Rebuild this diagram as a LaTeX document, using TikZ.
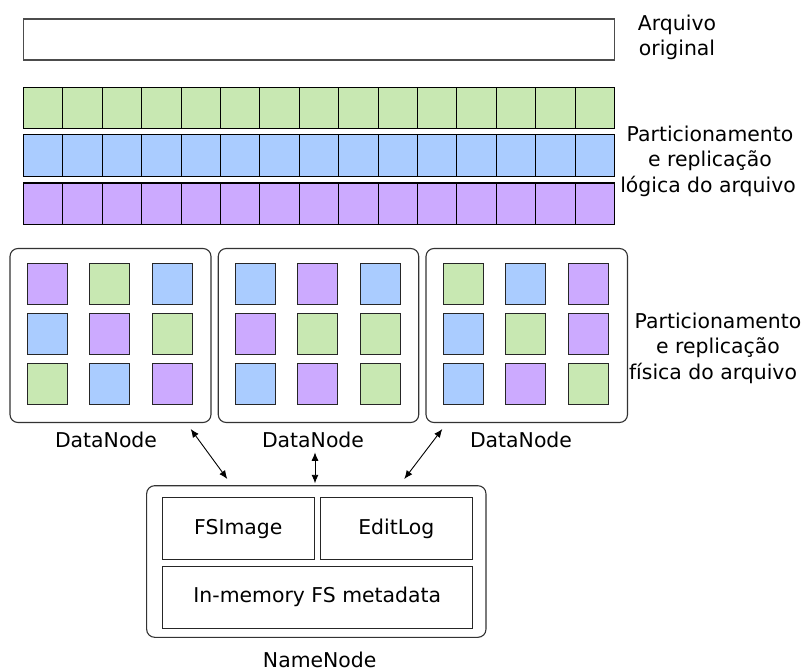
\documentclass[tikz,border=0pt]{standalone}
\usepackage{fontspec}
\setmainfont{DejaVu Sans}
\usetikzlibrary{arrows.meta}
\definecolor{cgreen}{RGB}{200,232,178}
\definecolor{cblue}{RGB}{170,204,255}
\definecolor{cpurple}{RGB}{204,170,255}
\begin{document}
\begin{tikzpicture}[x=1pt,y=-1pt,
  lbl/.style={font=\fontsize{20.4}{25}\selectfont, inner sep=0, anchor=base},
  cell/.style={draw=black, line width=1.1pt, inner sep=0, minimum width=39.4pt, minimum height=41.4pt},
  blk/.style={draw=black!85, line width=1pt, inner sep=0, minimum width=40pt, minimum height=41.5pt},
  host/.style={draw=black!80, line width=1.1pt, rounded corners=8pt, inner sep=0},
  box/.style={draw=black!85, line width=1.1pt, inner sep=0},
  link/.style={{Latex[length=8.5pt,width=7pt]}-{Latex[length=8.5pt,width=7pt]}, line width=0.9pt}
]
\useasboundingbox (0,0) rectangle (805,671);

% original file
\node[box, draw=black!70, minimum width=591pt, minimum height=41pt] (orig) at (319,39.5) {};
\node[lbl] (t1a) at (677,31) {Arquivo};
\node[lbl] (t1b) at (677,55.5) {original};

% logical partitions
\foreach \i in {1,...,15} {
  \node[cell, fill=cgreen]  (g\i) at ({23.5+39.4*(\i-0.5)},108) {};
  \node[cell, fill=cblue]   (b\i) at ({23.5+39.4*(\i-0.5)},155.5) {};
  \node[cell, fill=cpurple] (p\i) at ({23.5+39.4*(\i-0.5)},203.75) {};
}
\node[lbl] (t2a) at (710,141.7) {Particionamento};
\node[lbl] (t2b) at (710,167) {e replicação};
\node[lbl] (t2c) at (708,192.7) {lógica do arquivo};

% DataNodes
\node[host, minimum width=201pt, minimum height=174pt] (dn1) at (110.5,335.5) {};
\node[host, minimum width=200.5pt, minimum height=174pt] (dn2) at (318.5,335.5) {};
\node[host, minimum width=201.5pt, minimum height=174pt] (dn3) at (526.75,335.5) {};

% blocks box 1
\node[blk, fill=cpurple] (d1a) at (47,284.2) {};
\node[blk, fill=cgreen]  (d1b) at (109.5,284.2) {};
\node[blk, fill=cblue]   (d1c) at (172,284.2) {};
\node[blk, fill=cblue]   (d1d) at (47,333.8) {};
\node[blk, fill=cpurple] (d1e) at (109.5,333.8) {};
\node[blk, fill=cgreen]  (d1f) at (172,333.8) {};
\node[blk, fill=cgreen]  (d1g) at (47,384.2) {};
\node[blk, fill=cblue]   (d1h) at (109.5,384.2) {};
\node[blk, fill=cpurple] (d1i) at (172,384.2) {};
% blocks box 2
\node[blk, fill=cblue]   (d2a) at (255,284.2) {};
\node[blk, fill=cpurple] (d2b) at (317.5,284.2) {};
\node[blk, fill=cblue]   (d2c) at (380,284.2) {};
\node[blk, fill=cpurple] (d2d) at (255,333.8) {};
\node[blk, fill=cgreen]  (d2e) at (317.5,333.8) {};
\node[blk, fill=cgreen]  (d2f) at (380,333.8) {};
\node[blk, fill=cblue]   (d2g) at (255,384.2) {};
\node[blk, fill=cpurple] (d2h) at (317.5,384.2) {};
\node[blk, fill=cgreen]  (d2i) at (380,384.2) {};
% blocks box 3
\node[blk, fill=cgreen]  (d3a) at (463,284.2) {};
\node[blk, fill=cblue]   (d3b) at (525.5,284.2) {};
\node[blk, fill=cpurple] (d3c) at (588,284.2) {};
\node[blk, fill=cblue]   (d3d) at (463,333.8) {};
\node[blk, fill=cgreen]  (d3e) at (525.5,333.8) {};
\node[blk, fill=cpurple] (d3f) at (588,333.8) {};
\node[blk, fill=cblue]   (d3g) at (463,384.2) {};
\node[blk, fill=cpurple] (d3h) at (525.5,384.2) {};
\node[blk, fill=cgreen]  (d3i) at (588,384.2) {};

\node[lbl] (t3a) at (718,328) {Particionamento};
\node[lbl] (t3b) at (718,353.5) {e replicação};
\node[lbl] (t3c) at (713,379) {física do arquivo};

\node[lbl] (l1) at (106,447) {DataNode};
\node[lbl] (l2) at (313,447) {DataNode};
\node[lbl] (l3) at (521,447) {DataNode};

% NameNode
\node[host, minimum width=339.3pt, minimum height=151.6pt] (nn) at (316.3,561.5) {};
\node[box, minimum width=152pt, minimum height=61.6pt] (fsi) at (238.3,528.5) {};
\node[box, minimum width=152pt, minimum height=61.6pt] (edl) at (396.3,528.5) {};
\node[box, minimum width=310pt, minimum height=62.3pt] (mem) at (317.3,597.2) {};
\node[lbl] (tf) at (238.3,534.3) {FSImage};
\node[lbl] (te) at (396.3,534.3) {EditLog};
\node[lbl] (tm) at (317.3,602.6) {In-memory FS metadata};
\node[lbl] (tn) at (319.7,667) {NameNode};

% connectors
\coordinate (a1s) at (190.7,429);
\coordinate (a1e) at (227.3,479);
\coordinate (a2s) at (315,452.3);
\coordinate (a2e) at (315,483.3);
\coordinate (a3s) at (442.3,429);
\coordinate (a3e) at (404.3,479);
\draw[link] (a1s) -- (a1e);
\draw[link] (a2s) -- (a2e);
\draw[link] (a3s) -- (a3e);
\end{tikzpicture}
\end{document}
